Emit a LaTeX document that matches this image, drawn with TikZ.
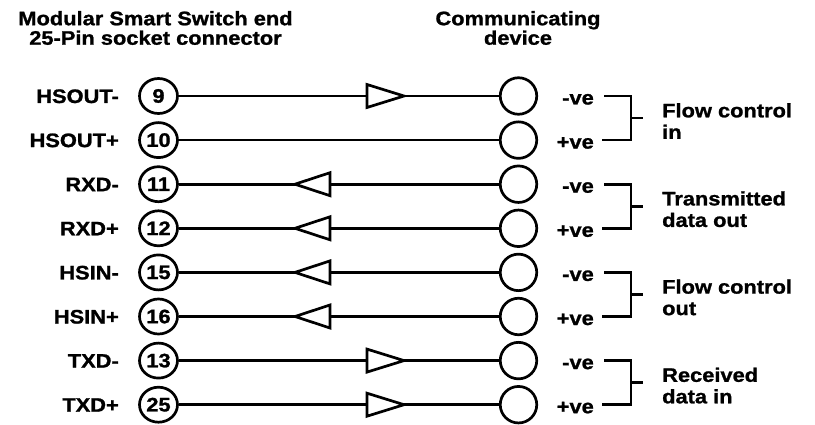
\documentclass[tikz,border=0pt]{standalone}
\usepackage{fontspec}
\setmainfont{Liberation Sans}[FakeStretch=1.12,FakeBold=1.2]
\usetikzlibrary{shapes.geometric}
\begin{document}
\begin{tikzpicture}[x=1pt,y=-1pt,
  lw/.style={line width=2.7pt},
  txt/.style={font=\fontsize{19.5}{21.5}\selectfont\bfseries, inner sep=0pt},
  pinL/.style={lw, draw, ellipse, minimum width=38pt, minimum height=35pt, inner sep=0pt, txt},
  pinR/.style={lw, draw, circle, minimum size=36.5pt, inner sep=0pt},
  wire/.style={lw},
  tri/.style={lw, fill=white, line join=miter},
  brk/.style={lw, line cap=butt}
]
\useasboundingbox (0,0) rectangle (815,425);

% headers
\node[txt, align=center, font=\fontsize{19.5}{19.5}\selectfont\bfseries] (hl) at (155.5,28) {Modular Smart Switch end\\25-Pin socket connector};
\node[txt, align=center, font=\fontsize{19.5}{19.5}\selectfont\bfseries] (hr) at (518,28) {Communicating\\device};

% rows
\foreach \i/\lab/\pin in {0/HSOUT-/9, 1/HSOUT+/10, 2/RXD-/11, 3/RXD+/12, 4/HSIN-/15, 5/HSIN+/16, 6/TXD-/13, 7/TXD+/25}{
  \pgfmathsetmacro{\yy}{96+44.1*\i}
  \node[txt, anchor=base east] (lab\i) at (119,\yy+7) {\lab};
  \node[pinL] (L\i) at (158.5,\yy) {\pin};
  \node[pinR] (R\i) at (518.5,\yy) {};
  \draw[wire] (L\i) -- (R\i);
}

% arrowheads (right-pointing)
\foreach \i in {0,6,7}{
  \pgfmathsetmacro{\yy}{96+44.1*\i}
  \draw[tri] (367,\yy-11.5) -- (404,\yy) -- (367,\yy+11.5) -- cycle;
}
% arrowheads (left-pointing)
\foreach \i in {2,3,4,5}{
  \pgfmathsetmacro{\yy}{96+44.1*\i}
  \draw[tri] (330,\yy-11.5) -- (295,\yy) -- (330,\yy+11.5) -- cycle;
}

% polarity labels and brackets
\foreach \p/\t in {0/{Flow control\\in}, 1/{Transmitted\\data out}, 2/{Flow control\\out}, 3/{Received\\data in}}{
  \pgfmathsetmacro{\ya}{96+88.2*\p}
  \pgfmathsetmacro{\yb}{\ya+44.1}
  \pgfmathsetmacro{\ym}{\ya+22}
  \node[txt, anchor=base east] (neg\p) at (594,\ya+8.5) {-ve};
  \node[txt, anchor=base east] (pos\p) at (594,\yb+8.5) {+ve};
  \coordinate (ta\p) at (631,\ya);
  \coordinate (tb\p) at (631,\yb);
  \coordinate (tm\p) at (631,\ym);
  \coordinate (te\p) at (643,\ym);
  \draw[brk] (neg\p.east |- ta\p) ++(10,0) -- (ta\p) -- (tb\p) -- ++(-29,0);
  \draw[brk] (tm\p) -- (te\p);
  \node[txt, anchor=west, align=left] (grp\p) at (662,\ym+3) {\t};
}
\end{tikzpicture}
\end{document}
